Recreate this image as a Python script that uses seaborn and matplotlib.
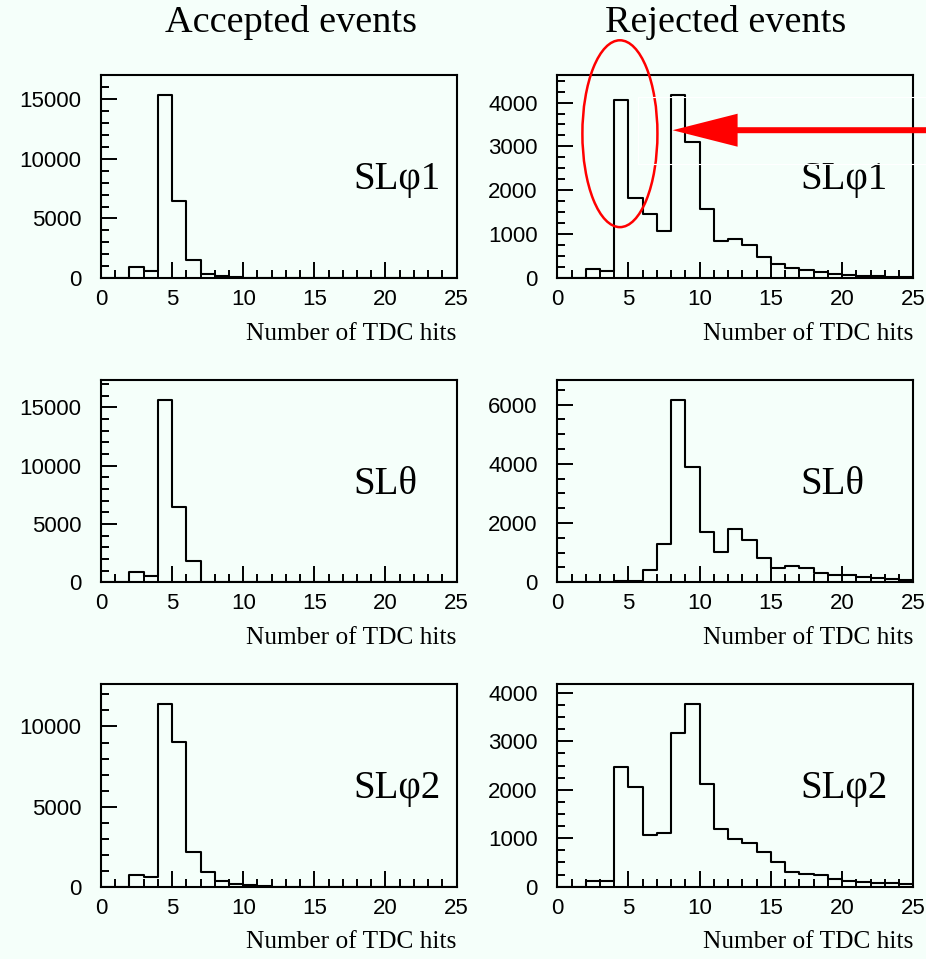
import numpy as np
import pandas as pd
import matplotlib
matplotlib.use("Agg")
import matplotlib.pyplot as plt
import seaborn as sns
from matplotlib.patches import Ellipse, FancyArrow, Rectangle
from matplotlib.ticker import MultipleLocator

# ---- histogram contents: counts per 1-hit bin, 0..25 TDC hits ----
bin_edges = list(range(0, 26))

accepted_phi1 = [0, 0, 900, 610, 15350, 6450, 1540, 340, 150, 80, 30, 0, 0,
                 0, 0, 0, 0, 0, 0, 0, 0, 0, 0, 0, 0]
accepted_theta = [0, 0, 910, 540, 15630, 6490, 1860, 0, 0, 0, 0, 0, 0,
                  0, 0, 0, 0, 0, 0, 0, 0, 0, 0, 0, 0]
accepted_phi2 = [0, 0, 710, 600, 11400, 9020, 2190, 900, 330, 150, 80, 30, 0,
                 0, 0, 0, 0, 0, 0, 0, 0, 0, 0, 0, 0]

rejected_phi1 = [0, 0, 210, 160, 4050, 1830, 1470, 1080, 4170, 3110, 1570, 850, 890,
                 750, 480, 330, 220, 180, 130, 100, 70, 50, 40, 30, 20]
rejected_theta = [0, 0, 0, 0, 35, 35, 400, 1290, 6150, 3880, 1690, 1020, 1800,
                  1430, 830, 490, 560, 470, 300, 230, 250, 190, 150, 120, 70]
rejected_phi2 = [0, 0, 110, 125, 2480, 2050, 1070, 1110, 3170, 3770, 2120, 1190, 980,
                 910, 710, 500, 310, 270, 240, 160, 125, 100, 75, 70, 50]

column_titles = ["Accepted events", "Rejected events"]
layer_labels = ["SL\u03c61", "SL\u03b8", "SL\u03c62"]
x_label = "Number of TDC hits"

# (major, minor) y tick spacing for each panel
left_ticks = [(5000, 1000), (5000, 1000), (5000, 1000)]
right_ticks = [(1000, 250), (2000, 500), (1000, 250)]

BG = "#f5fffa"

sns.set_style("ticks")
plt.rcParams["font.family"] = ["Liberation Serif", "DejaVu Serif"]
plt.rcParams["axes.linewidth"] = 1.5
plt.rcParams["text.color"] = "black"
plt.rcParams["axes.labelcolor"] = "black"
plt.rcParams["xtick.color"] = "black"
plt.rcParams["ytick.color"] = "black"
plt.rcParams["axes.edgecolor"] = "black"

fig = plt.figure(figsize=(9.26, 9.59), dpi=100, facecolor=BG)

col_left = [0.1091, 0.6018]
col_width = [0.3839, 0.3844]
row_bottom = [0.7101, 0.3928, 0.0754]
row_height = [0.2117, 0.2109, 0.2114]
label_x = [0.709, 0.682]

columns = [[accepted_phi1, accepted_theta, accepted_phi2],
           [rejected_phi1, rejected_theta, rejected_phi2]]
tick_specs = [left_ticks, right_ticks]

centers = np.array(bin_edges[:-1]) + 0.5
axes = {}
for c in range(2):
    for r in range(3):
        ax = fig.add_axes([col_left[c], row_bottom[r], col_width[c], row_height[r]])
        ax.set_facecolor(BG)
        counts = columns[c][r]
        df = pd.DataFrame({"hits": centers, "count": counts})
        sns.histplot(data=df, x="hits", weights="count", bins=bin_edges,
                     element="step", fill=False, color="black",
                     linewidth=1.5, ax=ax)
        ax.set_xlim(0, 25)
        ax.set_ylim(0, 1.11 * max(counts))
        ax.set_ylabel("")
        major, minor = tick_specs[c][r]
        ax.yaxis.set_major_locator(MultipleLocator(major))
        ax.yaxis.set_minor_locator(MultipleLocator(minor))
        ax.xaxis.set_major_locator(MultipleLocator(5))
        ax.xaxis.set_minor_locator(MultipleLocator(1))
        ax.tick_params(which="both", direction="in", top=False, right=False,
                       width=1.4, color="black", labelcolor="black")
        ax.tick_params(which="major", length=11.5)
        ax.tick_params(which="minor", length=5.8)
        ax.tick_params(axis="y", which="major", pad=14)
        ax.tick_params(axis="x", which="major", pad=8)
        for lab in ax.get_xticklabels() + ax.get_yticklabels():
            lab.set_fontfamily("Liberation Sans")
            lab.set_fontsize(16)
        for sp in ax.spines.values():
            sp.set_color("black")
            sp.set_linewidth(1.5)
        ax.text(label_x[c], 0.485, layer_labels[r], transform=ax.transAxes,
                ha="left", va="center", fontsize=28, color="black")
        ax.set_xlabel(x_label, fontsize=18.3, color="black")
        ax.xaxis.set_label_coords(1.0, -0.275)
        ax.xaxis.label.set_ha("right")
        ax.xaxis.label.set_va("center")
        axes[(c, r)] = ax

# column headings
fig.text(0.314, 0.977, column_titles[0], ha="center", va="center", fontsize=27.5)
fig.text(0.784, 0.977, column_titles[1], ha="center", va="center", fontsize=27.5)

# highlight the 4-hit peak of the rejected SLphi1 distribution
ax_r = axes[(1, 0)]
ax_r.add_patch(Ellipse((4.4, 3290), width=5.27, height=4260, fill=False,
                       edgecolor="#ff0000", linewidth=1.8, clip_on=False, zorder=5))

# arrow pointing at the 8-hit peak
tip = ax_r.transData.transform((8.1, 3370)) / fig.dpi
tail_x = 9.6
fig.add_artist(Rectangle((6.38, 7.95), 2.95, 0.67, fill=False, edgecolor="white",
                         linewidth=0.8, transform=fig.dpi_scale_trans))
fig.add_artist(FancyArrow(tail_x, tip[1], tip[0] - tail_x, 0, width=0.06,
                          head_width=0.33, head_length=0.65,
                          length_includes_head=True, color="#ff0000",
                          linewidth=0, transform=fig.dpi_scale_trans))

fig.savefig("out.png", dpi=100, facecolor=BG)
